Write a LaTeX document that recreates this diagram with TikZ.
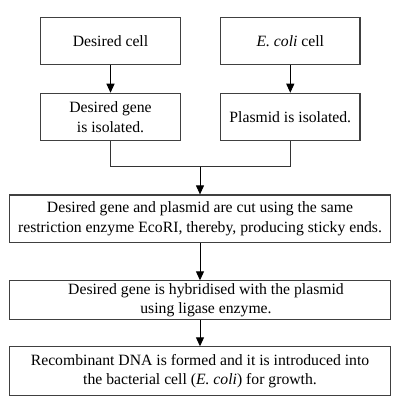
\documentclass[tikz,border=0pt]{standalone}
\usepackage{fontspec}
\setmainfont{Liberation Serif}
\usetikzlibrary{arrows.meta}
\begin{document}
\begin{tikzpicture}[x=1pt,y=-1pt,
  box/.style={draw=black!75,line width=1.1pt,align=center,inner sep=0pt,
    font=\fontsize{15.7}{19.5}\selectfont},
  arr/.style={-{Triangle[length=9pt,width=8pt]},line width=1pt,black}]
\useasboundingbox[fill=white] (0,0) rectangle (412,401);
\node[box,minimum width=139.3pt,minimum height=47pt] (a) at (110.5,40.7) {Desired cell};
\node[box,minimum width=139.3pt,minimum height=47pt] (b) at (290.3,40.7) {\textit{E. coli} cell};
\node[box,minimum width=139.3pt,minimum height=47.4pt] (c) at (110.5,117) {Desired gene\\is isolated.};
\node[box,minimum width=139.3pt,minimum height=47.4pt] (d) at (290.3,117) {Plasmid is isolated.};
\node[box,minimum width=380.7pt,minimum height=47.7pt] (e) at (200,218.8) {Desired gene and plasmid are cut using the same\\restriction enzyme EcoRI, thereby, producing sticky ends.};
\node[box,minimum width=380.7pt,minimum height=38.3pt] (f) at (200,300) {\hspace*{12pt}Desired gene is hybridised with the plasmid\\\hspace*{12pt}using ligase enzyme.};
\node[box,minimum width=380.7pt,minimum height=48.3pt] (g) at (200,371) {Recombinant DNA is formed and it is introduced into\\the bacterial cell (\textit{E. coli}) for growth.};
\coordinate (j) at (200,166.7);
\draw[arr] (a) -- (c);
\draw[arr] (b) -- (d);
\draw[line width=1pt,black!80] (c.south) |- (j) -| (d.south);
\draw[arr] (j) -- (e.north);
\draw[arr] (e) -- (f);
\draw[arr] (f) -- (g);
\end{tikzpicture}
\end{document}
